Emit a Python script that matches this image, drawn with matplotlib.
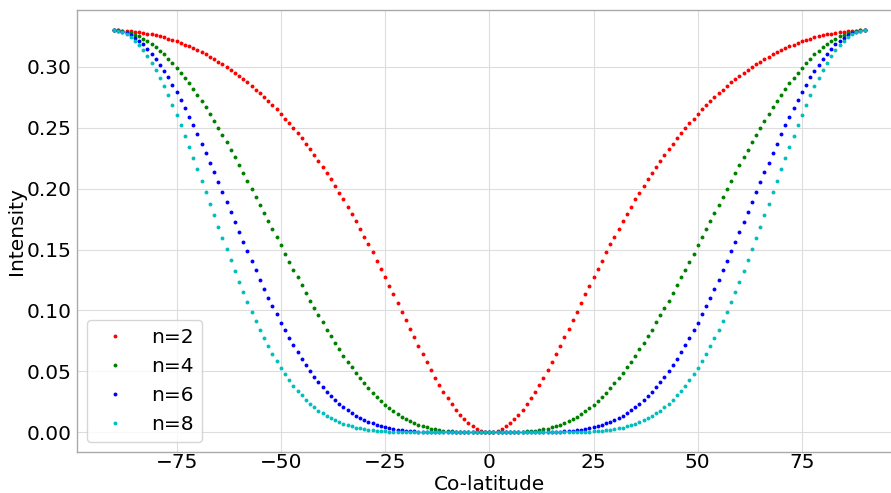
import numpy as np
import matplotlib
matplotlib.use("Agg")
import matplotlib.pyplot as plt

# intensity for co-latitude 0..90 deg (1 deg steps);
# the curves are symmetric about 0, so the negative side is mirrored
half_colat = list(range(0, 91))

n2 = [0.0, 0.0003, 0.0012, 0.0027, 0.0047, 0.0074, 0.0105, 0.0142, 0.0183, 0.0229,
      0.0279, 0.0332, 0.0389, 0.0449, 0.0512, 0.0576, 0.0643, 0.0711, 0.0780, 0.0850,
      0.0920, 0.0991, 0.1062, 0.1132, 0.1203, 0.1272, 0.1341, 0.1409, 0.1476, 0.1542,
      0.1607, 0.1670, 0.1733, 0.1793, 0.1853, 0.1911, 0.1968, 0.2023, 0.2077, 0.2129,
      0.2180, 0.2229, 0.2277, 0.2324, 0.2369, 0.2413, 0.2456, 0.2497, 0.2537, 0.2576,
      0.2613, 0.2650, 0.2685, 0.2719, 0.2752, 0.2783, 0.2814, 0.2843, 0.2872, 0.2899,
      0.2926, 0.2951, 0.2976, 0.2999, 0.3022, 0.3043, 0.3064, 0.3083, 0.3102, 0.3120,
      0.3137, 0.3153, 0.3168, 0.3183, 0.3196, 0.3209, 0.3221, 0.3232, 0.3242, 0.3251,
      0.3260, 0.3267, 0.3274, 0.3280, 0.3286, 0.3290, 0.3294, 0.3296, 0.3298, 0.3300,
      0.3300]

n4 = [0.0, 0.0, 0.0, 0.0, 0.0, 0.0001, 0.0001, 0.0002, 0.0004, 0.0006,
      0.0008, 0.0012, 0.0017, 0.0023, 0.0030, 0.0039, 0.0049, 0.0061, 0.0074, 0.0090,
      0.0108, 0.0127, 0.0149, 0.0173, 0.0199, 0.0227, 0.0258, 0.0290, 0.0325, 0.0362,
      0.0402, 0.0443, 0.0487, 0.0532, 0.0579, 0.0629, 0.0680, 0.0733, 0.0787, 0.0843,
      0.0901, 0.0959, 0.1020, 0.1081, 0.1143, 0.1207, 0.1271, 0.1336, 0.1401, 0.1467,
      0.1534, 0.1600, 0.1667, 0.1734, 0.1801, 0.1868, 0.1934, 0.2000, 0.2065, 0.2130,
      0.2194, 0.2257, 0.2320, 0.2381, 0.2441, 0.2500, 0.2557, 0.2613, 0.2667, 0.2719,
      0.2770, 0.2819, 0.2866, 0.2911, 0.2953, 0.2994, 0.3032, 0.3068, 0.3102, 0.3133,
      0.3161, 0.3187, 0.3211, 0.3232, 0.3250, 0.3265, 0.3278, 0.3287, 0.3294, 0.3299,
      0.3300]

n6 = [0.0, 0.0, 0.0, 0.0, 0.0, 0.0, 0.0, 0.0, 0.0, 0.0,
      0.0, 0.0, 0.0001, 0.0001, 0.0002, 0.0003, 0.0004, 0.0005, 0.0007, 0.0010,
      0.0013, 0.0016, 0.0021, 0.0026, 0.0033, 0.0041, 0.0050, 0.0060, 0.0072, 0.0085,
      0.0100, 0.0118, 0.0137, 0.0158, 0.0181, 0.0207, 0.0235, 0.0265, 0.0298, 0.0334,
      0.0372, 0.0413, 0.0457, 0.0503, 0.0552, 0.0603, 0.0658, 0.0714, 0.0774, 0.0836,
      0.0900, 0.0967, 0.1035, 0.1106, 0.1179, 0.1253, 0.1329, 0.1407, 0.1485, 0.1565,
      0.1646, 0.1727, 0.1808, 0.1890, 0.1972, 0.2053, 0.2134, 0.2214, 0.2293, 0.2370,
      0.2446, 0.2520, 0.2592, 0.2662, 0.2729, 0.2793, 0.2855, 0.2913, 0.2968, 0.3019,
      0.3066, 0.3109, 0.3149, 0.3184, 0.3214, 0.3240, 0.3262, 0.3278, 0.3290, 0.3298,
      0.3300]

n8 = [0.0, 0.0, 0.0, 0.0, 0.0, 0.0, 0.0, 0.0, 0.0, 0.0,
      0.0, 0.0, 0.0, 0.0, 0.0, 0.0, 0.0, 0.0, 0.0001, 0.0001,
      0.0001, 0.0002, 0.0003, 0.0004, 0.0005, 0.0007, 0.0010, 0.0012, 0.0016, 0.0020,
      0.0025, 0.0031, 0.0038, 0.0047, 0.0057, 0.0068, 0.0081, 0.0096, 0.0113, 0.0132,
      0.0154, 0.0178, 0.0204, 0.0234, 0.0266, 0.0302, 0.0340, 0.0382, 0.0427, 0.0476,
      0.0528, 0.0584, 0.0643, 0.0705, 0.0771, 0.0841, 0.0914, 0.0989, 0.1068, 0.1150,
      0.1234, 0.1321, 0.1410, 0.1501, 0.1593, 0.1686, 0.1781, 0.1876, 0.1971, 0.2066,
      0.2160, 0.2253, 0.2345, 0.2434, 0.2522, 0.2606, 0.2688, 0.2766, 0.2839, 0.2909,
      0.2974, 0.3033, 0.3088, 0.3136, 0.3179, 0.3216, 0.3246, 0.3269, 0.3286, 0.3297,
      0.3300]

labels = ["n=2", "n=4", "n=6", "n=8"]
colors = ["r", "g", "b", "c"]


def mirror(values):
    v = np.asarray(values, dtype=float)
    return np.concatenate([v[:0:-1], v])


colat = np.concatenate([-np.asarray(half_colat[:0:-1]), np.asarray(half_colat)])

plt.rcParams["font.family"] = "DejaVu Sans"
plt.rcParams["font.size"] = 14.5

fig = plt.figure(figsize=(8.91, 4.93), dpi=100)
ax = fig.add_axes([0.0859, 0.0826, 0.9265, 0.8966])

for series, label, color in zip([n2, n4, n6, n8], labels, colors):
    ax.plot(colat, mirror(series), "o", color=color, ms=2.8, mew=0, label=label)

ax.set_xlim(-99, 99)
ax.set_ylim(-0.0165, 0.3465)
ax.set_xticks([-75, -50, -25, 0, 25, 50, 75])
ax.set_yticks([0.0, 0.05, 0.10, 0.15, 0.20, 0.25, 0.30])
ax.yaxis.set_major_formatter(matplotlib.ticker.FormatStrFormatter("%.2f"))
ax.tick_params(axis="x", length=0, pad=0.5, labelsize=14.5)
ax.tick_params(axis="y", length=0, pad=3.3, labelsize=14.5)

ax.grid(True, color="#dddddd", linewidth=0.8)
ax.set_axisbelow(True)
for side in ["left", "bottom", "top", "right"]:
    ax.spines[side].set_color("#aaaaaa")
    ax.spines[side].set_linewidth(1.0)

ax.set_xlabel("Co-latitude", fontsize=14.5, labelpad=2.5)
ax.set_ylabel("Intensity", fontsize=14.5, labelpad=0.5)

ax.legend(loc="lower left", fontsize=14.5, numpoints=1, markerscale=1.0)

fig.savefig("out.png", dpi=100)
